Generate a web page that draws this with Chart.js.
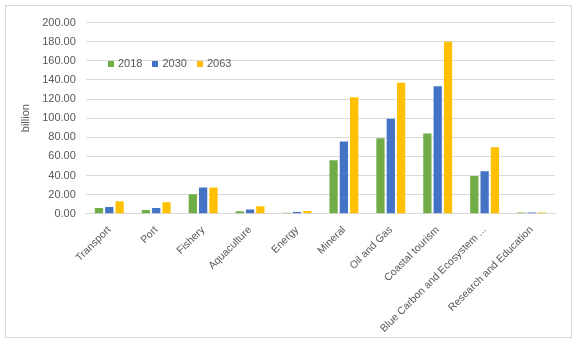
<!DOCTYPE html>
<html>
<head>
<meta charset="utf-8">
<script src="https://cdn.jsdelivr.net/npm/chart.js@4/dist/chart.umd.min.js"></script>
<style>
  html, body { margin: 0; padding: 0; background: #fff; }
  #box {
    position: absolute; left: 5px; top: 5px;
    width: 565px; height: 331px;
    border: 1px solid #d9d9d9;
  }
  #legend {
    position: absolute; left: 102px; top: 51px;
    font: 11px "Liberation Sans", Arial, sans-serif; color: #595959;
    display: flex; gap: 10px;
  }
  #legend span.sw { display: inline-block; width: 6px; height: 6px; margin-right: 4px; }
</style>
</head>
<body>
<div id="box">
  <canvas id="chart" width="565" height="331"></canvas>
  <div id="legend"></div>
</div>
<script>
// sectors and values in billion
const categories = ["Transport", "Port", "Fishery", "Aquaculture", "Energy", "Mineral",
  "Oil and Gas", "Coastal tourism", "Blue Carbon and Ecosystem ...", "Research and Education"];
const years = ["2018", "2030", "2063"];
const values2018 = [6, 4, 20.5, 2.5, 1, 56, 79, 84, 39.5, 1.2];
const values2030 = [7, 6, 27.5, 4.5, 1.7, 75.5, 99.5, 133.5, 44.5, 1.2];
const values2063 = [13, 12, 27.5, 7.8, 2.8, 122, 137, 180, 69.5, 1.2];
const colors = ["#70AD47", "#4472C4", "#FFC000"];

const seriesValues = [values2018, values2030, values2063];
const textColor = "#595959";
const font = { family: "'Liberation Sans', Arial, sans-serif", size: 10.5 };

const chart = new Chart(document.getElementById("chart"), {
  type: "bar",
  data: {
    labels: categories,
    datasets: years.map((y, i) => ({
      label: y,
      data: seriesValues[i],
      backgroundColor: colors[i],
      categoryPercentage: 0.66,
      barPercentage: 0.8,
    })),
  },
  options: {
    responsive: false,
    animation: false,
    layout: { padding: { top: 15, right: 16, left: 2, bottom: 0 } },
    plugins: {
      legend: { display: false },
      tooltip: { enabled: false },
    },
    scales: {
      x: {
        grid: { display: false },
        border: { color: "#d9d9d9" },
        ticks: { color: textColor, font: font, maxRotation: 45, minRotation: 45, autoSkip: false, padding: 2 },
      },
      y: {
        min: 0,
        max: 200,
        border: { display: false },
        grid: { color: "#d9d9d9", drawTicks: false },
        ticks: {
          stepSize: 20,
          color: textColor,
          font: { family: font.family, size: 11 },
          padding: 10,
          callback: (v) => v.toFixed(2),
        },
        title: {
          display: true, text: "billion", color: textColor,
          font: { family: font.family, size: 11 },
          padding: { top: 11, bottom: 0 },
        },
      },
    },
  },
});

// legend drawn as html so it can sit inside the plot
const legend = document.getElementById("legend");
years.forEach((y, i) => {
  const item = document.createElement("div");
  item.innerHTML = '<span class="sw" style="background:' + colors[i] + '"></span>' + y;
  legend.appendChild(item);
});
</script>
</body>
</html>
